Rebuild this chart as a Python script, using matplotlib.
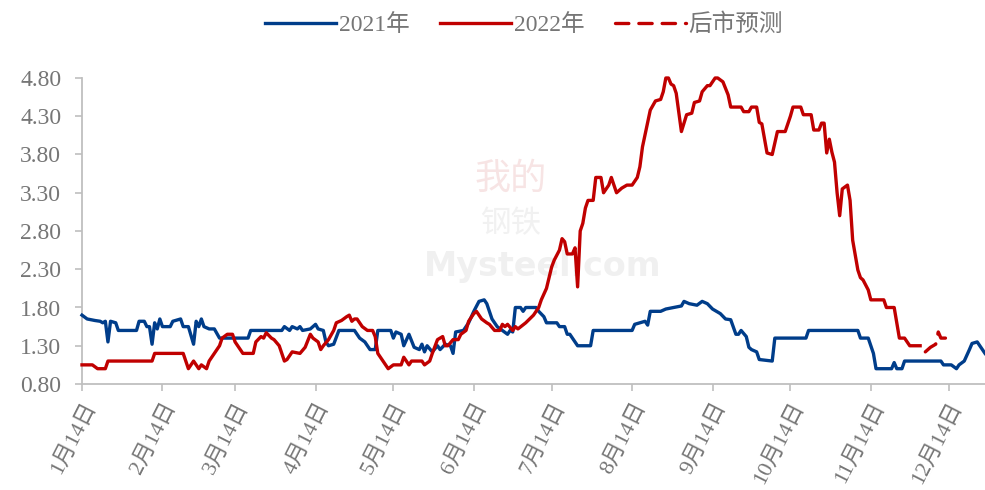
import matplotlib
matplotlib.use("Agg")
import matplotlib.pyplot as plt
import pandas as pd

# ---------------- data ----------------
blue_dates = ["01-14","01-16","01-19","01-21","01-22","01-23","01-24","01-25","01-27","01-28",
    "02-04","02-05","02-07","02-08","02-09","02-10","02-11","02-12","02-13","02-14","02-17","02-18",
    "02-21","02-22","02-24","02-26","02-27","02-28","03-01","03-02","03-04","03-06","03-08","03-19",
    "03-20","04-01","04-02","04-04","04-05","04-07","04-08","04-09","04-12","04-14","04-15","04-17",
    "04-18","04-19","04-21","04-23","04-29","05-01","05-03","05-05","05-07","05-08","05-13","05-14",
    "05-15","05-17","05-18","05-20","05-22","05-24","05-25","05-26","05-27","05-29","05-31","06-01",
    "06-03","06-05","06-06","06-07","06-10","06-12","06-14","06-16","06-18","06-19","06-21","06-23",
    "06-25","06-27","06-28","06-29","06-30","07-02","07-03","07-04","07-08","07-09","07-11","07-12",
    "07-16","07-17","07-19","07-20","07-21","07-23","07-24","07-29","07-30","08-14","08-15","08-17",
    "08-19","08-20","08-21","08-25","08-27","08-30","09-02","09-03","09-05","09-08","09-10","09-12",
    "09-14","09-17","09-19","09-21","09-23","09-24","09-25","09-27","09-28","09-29","10-01","10-02",
    "10-07","10-08","10-20","10-21","11-09","11-10","11-13","11-14","11-15","11-16","11-22","11-23",
    "11-24","11-26","11-27","12-11","12-12","12-15","12-17","12-18","12-20","12-22","12-23","12-25",
    "12-28"]
blue_values = [1.70,1.65,1.63,1.62,1.60,1.62,1.35,1.62,1.60,1.50,
    1.50,1.62,1.62,1.55,1.55,1.32,1.60,1.52,1.65,1.55,1.55,1.62,
    1.65,1.55,1.55,1.32,1.62,1.55,1.65,1.55,1.52,1.52,1.40,1.40,
    1.50,1.50,1.55,1.50,1.55,1.52,1.55,1.50,1.52,1.58,1.52,1.50,
    1.35,1.30,1.32,1.50,1.50,1.40,1.35,1.25,1.25,1.50,1.50,1.40,
    1.48,1.45,1.30,1.45,1.28,1.25,1.32,1.22,1.30,1.22,1.30,1.25,
    1.32,1.30,1.20,1.48,1.50,1.60,1.75,1.88,1.90,1.85,1.65,1.55,
    1.50,1.45,1.50,1.48,1.80,1.80,1.75,1.80,1.80,1.75,1.68,1.60,
    1.60,1.55,1.55,1.45,1.45,1.35,1.30,1.30,1.50,1.50,1.58,1.60,
    1.62,1.57,1.75,1.75,1.78,1.80,1.82,1.88,1.85,1.83,1.88,1.85,
    1.78,1.72,1.65,1.64,1.45,1.45,1.50,1.42,1.28,1.25,1.22,1.12,
    1.10,1.40,1.40,1.50,1.50,1.40,1.40,1.30,1.20,1.00,1.00,1.08,
    1.00,1.00,1.10,1.10,1.05,1.05,1.00,1.05,1.10,1.25,1.33,1.35,
    1.20]

red_dates = ["01-14","01-18","01-20","01-23","01-24","02-10","02-11","02-22","02-24","02-26",
    "02-28","03-01","03-03","03-04","03-06","03-08","03-09","03-11","03-13","03-14","03-15","03-17",
    "03-21","03-22","03-24","03-25","03-26","03-28","03-29","03-31","04-01","04-02","04-03","04-05",
    "04-08","04-10","04-12","04-13","04-15","04-16","04-17","04-19","04-21","04-22","04-24","04-26",
    "04-27","04-28","04-29","04-30","05-02","05-04","05-06","05-07","05-08","05-09","05-11","05-12",
    "05-14","05-17","05-18","05-20","05-21","05-25","05-26","05-28","05-29","05-31","06-02","06-03",
    "06-04","06-06","06-08","06-09","06-11","06-12","06-14","06-15","06-17","06-19","06-20","06-22",
    "06-24","06-25","06-26","06-27","06-29","06-30","07-01","07-04","07-07","07-09","07-10","07-12",
    "07-14","07-15","07-17","07-18","07-19","07-20","07-22","07-23","07-24","07-25","07-26","07-27",
    "07-28","07-30","07-31","08-02","08-03","08-05","08-06","08-08","08-10","08-12","08-14","08-16",
    "08-17","08-18","08-20","08-21","08-23","08-25","08-26","08-27","08-28","08-29","08-30","08-31",
    "09-02","09-04","09-06","09-07","09-09","09-10","09-12","09-13","09-15","09-16","09-18","09-20",
    "09-21","09-25","09-26","09-28","09-29","10-01","10-02","10-03","10-05","10-07","10-09","10-12",
    "10-14","10-15","10-18","10-19","10-22","10-23","10-25","10-26","10-27","10-28","10-29","10-30",
    "10-31","11-01","11-02","11-03","11-05","11-06","11-07","11-09","11-10","11-11","11-13","11-14",
    "11-19","11-20","11-23","11-25","11-27","11-29","12-03"]
red_values = [1.05,1.05,1.00,1.00,1.10,1.10,1.20,1.20,1.00,1.10,
    1.00,1.05,1.00,1.10,1.20,1.30,1.40,1.45,1.45,1.35,1.30,1.20,
    1.20,1.35,1.42,1.40,1.47,1.40,1.38,1.30,1.20,1.10,1.12,1.22,
    1.20,1.28,1.45,1.40,1.35,1.25,1.30,1.38,1.50,1.60,1.63,1.68,
    1.70,1.62,1.65,1.65,1.55,1.50,1.50,1.42,1.20,1.15,1.05,1.00,
    1.05,1.05,1.15,1.05,1.10,1.10,1.05,1.10,1.20,1.38,1.42,1.30,
    1.30,1.38,1.38,1.45,1.50,1.62,1.72,1.75,1.65,1.60,1.58,1.50,
    1.50,1.58,1.55,1.58,1.50,1.55,1.52,1.60,1.70,1.80,1.90,2.05,
    2.33,2.42,2.55,2.70,2.66,2.50,2.50,2.58,2.07,2.80,2.90,3.10,
    3.20,3.20,3.50,3.50,3.30,3.40,3.50,3.30,3.36,3.40,3.40,3.50,
    3.64,3.90,4.22,4.38,4.50,4.52,4.62,4.80,4.80,4.72,4.70,4.60,
    4.10,4.32,4.34,4.48,4.50,4.62,4.70,4.70,4.80,4.80,4.75,4.58,
    4.42,4.42,4.36,4.36,4.42,4.42,4.22,4.20,3.82,3.80,4.10,4.10,
    4.30,4.42,4.42,4.32,4.32,4.12,4.12,4.21,4.21,3.82,4.00,3.83,
    3.70,3.30,3.00,3.35,3.40,3.20,2.68,2.29,2.19,2.16,2.03,1.90,
    1.90,1.80,1.80,1.40,1.40,1.30,1.30]

forecast_dates = ["12-05","12-07","12-08","12-09","12-10","12-11","12-14"]
forecast_values = [1.22,1.28,1.30,1.32,1.48,1.40,1.40]

tick_months = list(range(1, 13))
tick_labels = [f"{m}月14日" for m in tick_months]
y_ticks = [0.80, 1.30, 1.80, 2.30, 2.80, 3.30, 3.80, 4.30, 4.80]

series_labels = ["2021年", "2022年", "后市预测"]

# ---------------- style ----------------
BLUE = "#003D8A"
RED = "#C00000"
GRAY_TXT = "#767676"
AX_GRAY = "#BFBFBF"
FONT = ["Liberation Serif", "Noto Sans CJK SC", "DejaVu Sans"]
plt.rcParams["font.family"] = FONT


def to_dt(lst):
    return pd.to_datetime(["2022-" + d for d in lst])


fig = plt.figure(figsize=(9.85, 4.9), dpi=100)
ax = fig.add_axes([82 / 985, 1 - 384 / 490, (985 - 82) / 985, (384 - 78) / 490])

# watermark (faint)
ax.text(0.475, 0.67, "我的", transform=ax.transAxes, fontsize=26, color="#f7e4e4",
        ha="center", va="center", family=["Noto Sans CJK SC"], zorder=0)
ax.text(0.475, 0.525, "钢铁", transform=ax.transAxes, fontsize=22, color="#f1f1f1",
        ha="center", va="center", family=["Noto Sans CJK SC"], zorder=0)
ax.text(0.51, 0.385, "Mysteel.com", transform=ax.transAxes, fontsize=24, color="#f0f0f0",
        ha="center", va="center", family=["DejaVu Sans"], fontweight="bold", zorder=0)

l1, = ax.plot(to_dt(blue_dates), blue_values, color=BLUE, lw=2.4, clip_on=False,
              solid_joinstyle="round", label=series_labels[0], zorder=3)
l2, = ax.plot(to_dt(red_dates), red_values, color=RED, lw=2.4, clip_on=False,
              solid_joinstyle="round", label=series_labels[1], zorder=3)
l3, = ax.plot(to_dt(forecast_dates), forecast_values, color=RED, lw=2.4,
              dashes=(4, 3), dash_capstyle="round", label=series_labels[2], zorder=3)

ax.set_xlim(pd.Timestamp("2022-01-14"), pd.Timestamp("2022-12-28"))
ax.set_ylim(0.80, 4.80)

ax.set_yticks(y_ticks)
ax.set_yticklabels([f"{v:.2f}" for v in y_ticks])
ax.set_xticks(pd.to_datetime([f"2022-{m:02d}-14" for m in tick_months]))
ax.set_xticklabels(tick_labels, rotation=63, ha="right", va="top",
                   rotation_mode="anchor")

for s in ["top", "right"]:
    ax.spines[s].set_visible(False)
for s in ["left", "bottom"]:
    ax.spines[s].set_color(AX_GRAY)
    ax.spines[s].set_linewidth(1.3)

ax.tick_params(axis="y", colors=AX_GRAY, labelcolor=GRAY_TXT, labelsize=17,
               length=5, width=1.2, pad=10)
ax.tick_params(axis="x", colors=AX_GRAY, labelcolor=GRAY_TXT, labelsize=16,
               length=5, width=1.2, pad=6)

leg = fig.legend(handles=[l1, l2, l3], loc="center", bbox_to_anchor=(524 / 985, 1 - 25 / 490),
                 ncol=3, frameon=False, fontsize=17, handlelength=3.0,
                 handletextpad=0.12, columnspacing=1.3, borderaxespad=0)
for t in leg.get_texts():
    t.set_color(GRAY_TXT)

fig.savefig("out.png", dpi=100)
